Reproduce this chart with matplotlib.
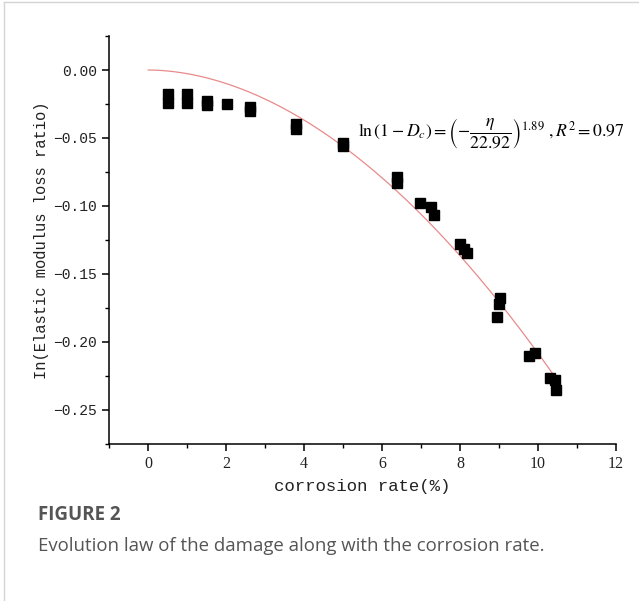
import numpy as np
import matplotlib
matplotlib.use("Agg")
import matplotlib.pyplot as plt
import matplotlib.ticker as mticker
from matplotlib.lines import Line2D

# Measured points (corrosion rate %, ln of modulus loss ratio)
corrosion_rate = [0.5, 0.5, 0.99, 0.99, 1.5, 1.5, 2.03, 2.6, 2.6, 3.8, 3.8,
                  5.0, 5.0, 6.37, 6.37, 6.96, 7.26, 7.32, 8.01, 8.09, 8.19,
                  9.02, 9.0, 8.96, 9.78, 9.92, 10.3, 10.43, 10.45]
ln_ratio = [-0.018, -0.024, -0.018, -0.024, -0.0226, -0.0256, -0.025, -0.027, -0.030,
            -0.0397, -0.0434, -0.054, -0.056, -0.0786, -0.083, -0.0977, -0.1007,
            -0.107, -0.128, -0.1315, -0.135, -0.168, -0.172, -0.1815, -0.2105,
            -0.208, -0.2268, -0.2285, -0.2353]

# Fit parameters shown in the equation
fit_scale = 22.92
fit_power = 1.89
fit_range = (0.0, 10.47)

x_ticks = [0, 2, 4, 6, 8, 10, 12]
y_ticks = [0.00, -0.05, -0.10, -0.15, -0.20, -0.25]

mono = "Liberation Mono"
plt.rcParams["mathtext.fontset"] = "stix"

fig = plt.figure(figsize=(6.39, 6.01), dpi=100)
ax = fig.add_axes([0.171, 0.262, 0.793, 0.678])

# fitted curve
xf = np.linspace(fit_range[0], fit_range[1], 200)
ax.plot(xf, -(xf / fit_scale) ** fit_power, color="#e88a8a", lw=0.9, zorder=2)

# data points
ax.plot(corrosion_rate, ln_ratio, linestyle="none", marker="s", ms=6.5,
        color="black", zorder=3)

ax.set_xlim(-1, 12)
ax.set_ylim(-0.275, 0.025)
ax.set_xticks(x_ticks)
ax.set_yticks(y_ticks)
ax.xaxis.set_minor_locator(mticker.MultipleLocator(1))
ax.yaxis.set_minor_locator(mticker.MultipleLocator(0.025))
ax.set_xticklabels([str(t) for t in x_ticks], fontfamily="Liberation Serif",
                   fontsize=11.5, color="#222222")
ax.set_yticklabels(["%.2f" % t if t == 0 else "\u2212%.2f" % abs(t) for t in y_ticks],
                   fontfamily=mono, fontsize=10.5, color="#222222")

for side in ["top", "right"]:
    ax.spines[side].set_visible(False)
for side in ["left", "bottom"]:
    ax.spines[side].set_linewidth(1.1)
ax.tick_params(which="major", direction="out", length=5, width=1.1, pad=4)
ax.tick_params(which="minor", direction="out", length=3, width=1.0)

ax.set_xlabel("corrosion rate(%)", fontfamily=mono, fontsize=12.5,
              color="#222222", labelpad=5)
ax.set_ylabel("In(Elastic modulus loss ratio)", fontfamily=mono, fontsize=11.2,
              color="#222222", labelpad=3)

# equation
ax.text(0.491, 0.762,
        r"$\ln\left(1-D_c\right)=\left(-\dfrac{\eta}{22.92}\right)^{1.89}\ ,R^2=0.97$",
        transform=ax.transAxes, fontsize=12.8, color="black", va="center", ha="left")

# caption
fig.text(38 / 639, 1 - 515 / 601, "FIGURE 2", fontfamily="Open Sans",
         fontweight="bold", fontsize=13.5, color="#555555", va="center")
fig.text(38 / 639, 1 - 546 / 601, "Evolution law of the damage along with the corrosion rate.",
         fontfamily="Open Sans", fontsize=13.4, color="#555555", va="center")

# page frame lines
fig.add_artist(Line2D([4 / 639, 4 / 639], [0, 1 - 2 / 601], color="#d4d4d4", lw=1))
fig.add_artist(Line2D([4 / 639, 1], [1 - 2 / 601, 1 - 2 / 601], color="#d4d4d4", lw=1))

fig.savefig("out.png", dpi=100)
